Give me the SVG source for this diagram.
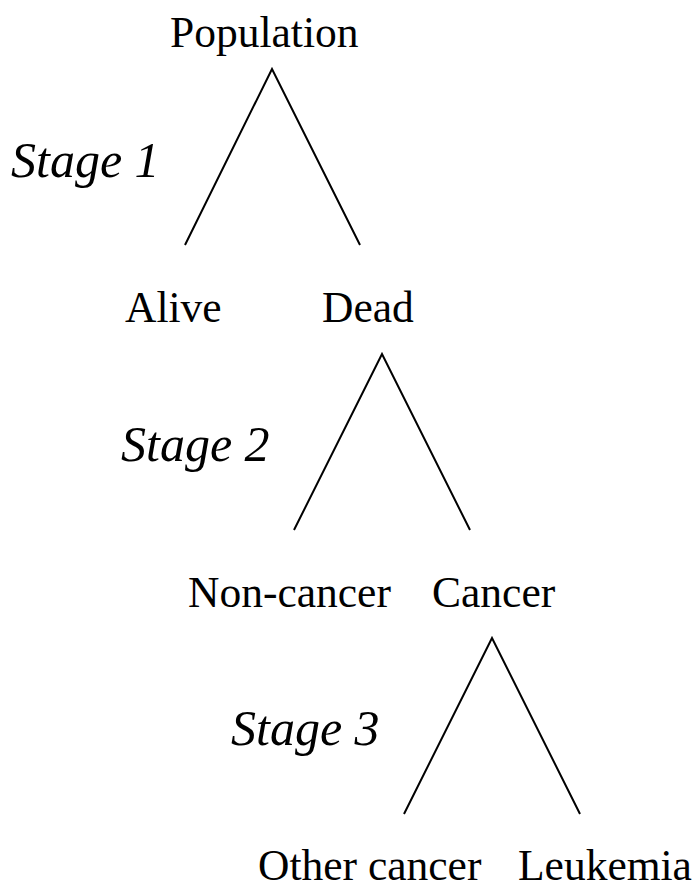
<svg xmlns="http://www.w3.org/2000/svg" width="697" height="895" viewBox="0 0 697 895">
<style>
.lbl{font-family:"Liberation Serif","Times New Roman",serif;font-size:43.5px;fill:#000}
.stg{font-family:"Liberation Serif","Times New Roman",serif;font-size:50px;font-style:italic;fill:#000}
.ln{stroke:#000;stroke-width:2;fill:none}
</style>
<rect width="697" height="895" fill="#fff"/>
<g id="population"><text class="lbl" x="170" y="47">Population</text></g>
<g id="alive"><text class="lbl" x="125" y="322">Alive</text></g>
<g id="dead"><text class="lbl" x="322" y="322">Dead</text></g>
<g id="noncancer"><text class="lbl" x="188" y="607">Non-cancer</text></g>
<g id="cancer"><text class="lbl" x="432" y="607">Cancer</text></g>
<g id="othercancer"><text class="lbl" x="258" y="880">Other cancer</text></g>
<g id="leukemia"><text class="lbl" x="518" y="880">Leukemia</text></g>
<g id="stage1"><text class="stg" x="11" y="177">Stage 1</text></g>
<g id="stage2"><text class="stg" x="121" y="461">Stage 2</text></g>
<g id="stage3"><text class="stg" x="231" y="745">Stage 3</text></g>
<g id="connectors">
<polyline class="ln" points="185,245 272,69 360,245"/>
<polyline class="ln" points="294,530 382,354 470,530"/>
<polyline class="ln" points="404,814 492,638 580,814"/>
</g>
</svg>
